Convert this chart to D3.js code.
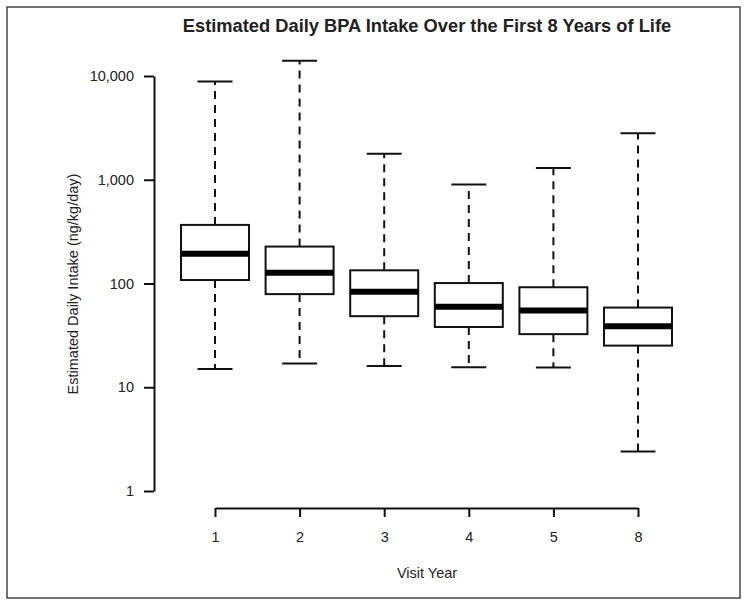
<!DOCTYPE html>
<html>
<head>
<meta charset="utf-8">
<script src="https://cdn.jsdelivr.net/npm/d3@7"></script>
<style>
  body { margin: 0; background: #fff; }
  text { font-family: "Liberation Sans", Arial, sans-serif; fill: #222; }
</style>
</head>
<body>
<svg id="chart" width="744" height="607"></svg>
<script>
// visit years and box stats (ng/kg/day)
var years = ["1", "2", "3", "4", "5", "8"];
var whiskerLow  = [15.0, 16.9, 16.0, 15.6, 15.5, 2.4];
var q1          = [108, 79, 48.4, 38.1, 32.5, 25.2];
var median      = [193, 127, 83.5, 59.8, 54.8, 38.7];
var q3          = [367, 227, 134, 101, 92, 58.6];
var whiskerHigh = [8850, 14000, 1780, 900, 1300, 2810];
var yTicks = [1, 10, 100, 1000, 10000];

var svg = d3.select("#chart");

// frame round the figure
svg.append("rect")
  .attr("x", 7).attr("y", 7)
  .attr("width", 733).attr("height", 591)
  .attr("fill", "none")
  .attr("stroke", "#444")
  .attr("stroke-width", 1.5);

var x = d3.scalePoint().domain(years).range([215, 638]);
var y = d3.scaleLog().domain([1, 10000]).range([491, 76]);

var boxW = 68, capW = 35;

var data = years.map((d, i) => ({
  year: d, lo: whiskerLow[i], q1: q1[i], med: median[i], q3: q3[i], hi: whiskerHigh[i]
}));

var g = svg.append("g");

var box = g.selectAll(".box").data(data).enter().append("g").attr("class", "box");

// whiskers
box.append("line")
  .attr("x1", d => x(d.year)).attr("x2", d => x(d.year))
  .attr("y1", d => y(d.q3)).attr("y2", d => y(d.hi))
  .attr("stroke", "#111").attr("stroke-width", 2)
  .attr("stroke-dasharray", "8,6");
box.append("line")
  .attr("x1", d => x(d.year)).attr("x2", d => x(d.year))
  .attr("y1", d => y(d.q1)).attr("y2", d => y(d.lo))
  .attr("stroke", "#111").attr("stroke-width", 2)
  .attr("stroke-dasharray", "8,6");

// caps
box.append("line")
  .attr("x1", d => x(d.year) - capW / 2).attr("x2", d => x(d.year) + capW / 2)
  .attr("y1", d => y(d.hi)).attr("y2", d => y(d.hi))
  .attr("stroke", "#111").attr("stroke-width", 2);
box.append("line")
  .attr("x1", d => x(d.year) - capW / 2).attr("x2", d => x(d.year) + capW / 2)
  .attr("y1", d => y(d.lo)).attr("y2", d => y(d.lo))
  .attr("stroke", "#111").attr("stroke-width", 2);

// boxes
box.append("rect")
  .attr("x", d => x(d.year) - boxW / 2)
  .attr("y", d => y(d.q3))
  .attr("width", boxW)
  .attr("height", d => y(d.q1) - y(d.q3))
  .attr("fill", "#fff")
  .attr("stroke", "#111").attr("stroke-width", 2);

// medians
box.append("line")
  .attr("x1", d => x(d.year) - boxW / 2).attr("x2", d => x(d.year) + boxW / 2)
  .attr("y1", d => y(d.med)).attr("y2", d => y(d.med))
  .attr("stroke", "#000").attr("stroke-width", 6);

// axes
var yAxis = svg.append("g")
  .attr("transform", "translate(154,0)")
  .call(d3.axisLeft(y).tickValues(yTicks).tickFormat(d3.format(","))
    .tickSize(10).tickSizeOuter(0).tickPadding(10));

var xAxis = svg.append("g")
  .attr("transform", "translate(0,508)")
  .call(d3.axisBottom(x).tickSize(9).tickSizeOuter(0).tickPadding(15));

[yAxis, xAxis].forEach(a => {
  a.select(".domain").attr("stroke", "#111").attr("stroke-width", 2);
  a.selectAll(".tick line").attr("stroke", "#111").attr("stroke-width", 2);
  a.selectAll(".tick text")
    .style("font-family", "'Liberation Sans', Arial, sans-serif")
    .style("font-size", "14.5px").attr("fill", "#222");
});

// labels
svg.append("text")
  .attr("x", 427).attr("y", 32)
  .attr("text-anchor", "middle")
  .style("font-size", "18.3px").style("font-weight", "bold")
  .attr("fill", "#111")
  .text("Estimated Daily BPA Intake Over the First 8 Years of Life");

svg.append("text")
  .attr("transform", "translate(73,284) rotate(-90)")
  .attr("text-anchor", "middle")
  .attr("dy", "0.35em")
  .style("font-size", "14.5px")
  .text("Estimated Daily Intake (ng/kg/day)");

svg.append("text")
  .attr("x", 427).attr("y", 578)
  .attr("text-anchor", "middle")
  .style("font-size", "14.5px")
  .text("Visit Year");
</script>
</body>
</html>
